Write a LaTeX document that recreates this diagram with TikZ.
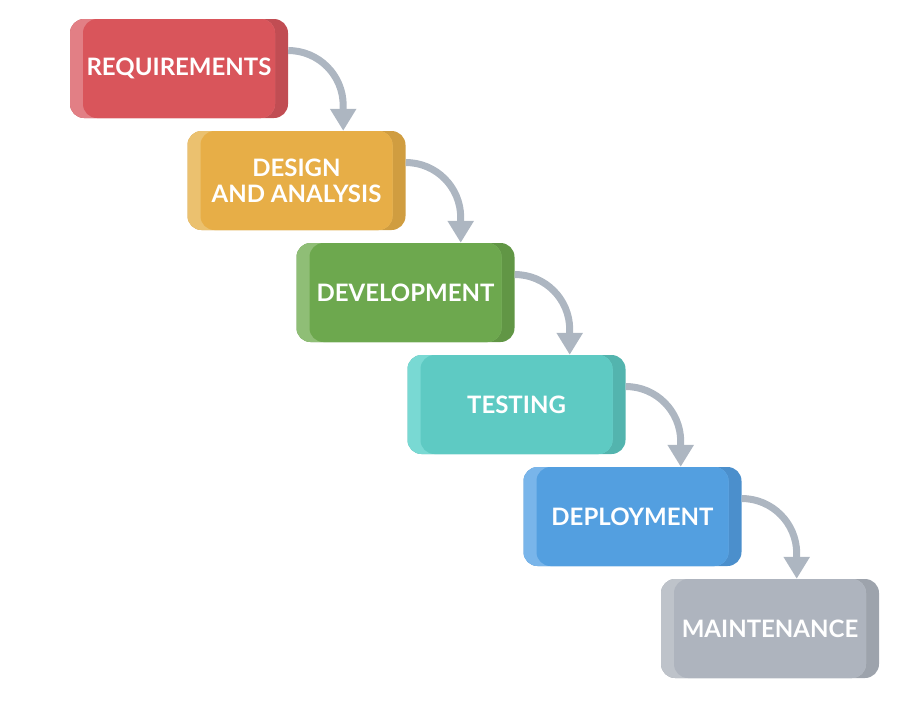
\documentclass[tikz,border=0pt]{standalone}
\usepackage{fontspec}
\setmainfont{Lato}
\usetikzlibrary{arrows.meta}

\definecolor{reqL}{HTML}{E27F85}  \definecolor{reqM}{HTML}{D9555B}  \definecolor{reqD}{HTML}{C14D53}
\definecolor{desL}{HTML}{EBC16F}  \definecolor{desM}{HTML}{E7AE47}  \definecolor{desD}{HTML}{D09D40}
\definecolor{devL}{HTML}{8FBE76}  \definecolor{devM}{HTML}{6DA84E}  \definecolor{devD}{HTML}{619645}
\definecolor{tstL}{HTML}{79D9D3}  \definecolor{tstM}{HTML}{5ECAC3}  \definecolor{tstD}{HTML}{53B4AE}
\definecolor{depL}{HTML}{79B5EA}  \definecolor{depM}{HTML}{539FE0}  \definecolor{depD}{HTML}{4B8FCC}
\definecolor{mntL}{HTML}{BEC3CA}  \definecolor{mntM}{HTML}{AEB4BE}  \definecolor{mntD}{HTML}{9DA3AC}
\definecolor{flowgray}{HTML}{ADB6C1}

\begin{document}
\begin{tikzpicture}[x=1pt, y=1pt,
  font=\fontsize{24}{26}\selectfont\bfseries,
  stage/.style={rounded corners=14pt, minimum width=218pt, minimum height=99pt,
                inner sep=0pt, align=center, text=white, fill=#1D,
                path picture={
                  \fill[#1L, rounded corners=14pt] (path picture bounding box.south west)
                    rectangle ([xshift=-13pt]path picture bounding box.north east);
                  \fill[#1M, rounded corners=14pt] ([xshift=13pt]path picture bounding box.south west)
                    rectangle ([xshift=-13pt]path picture bounding box.north east);
                }},
  flow/.style={-{Triangle[width=25pt,length=22pt]}, line width=7pt, draw=flowgray}
]
  \useasboundingbox (0,0) rectangle (904,-702);

  % --- Phases ---
  \node[stage=req] (req) at (179,-68.5)  {REQUIREMENTS};
  \node[stage=des] (des) at (296.5,-180.5) {DESIGN\\AND ANALYSIS};
  \node[stage=dev] (dev) at (405.5,-292.5) {DEVELOPMENT};
  \node[stage=tst] (tst) at (516.5,-404.5) {TESTING};
  \node[stage=dep] (dep) at (632.5,-516.5) {DEPLOYMENT};
  \node[stage=mnt] (mnt) at (770,-628.5)  {MAINTENANCE};

  % --- Passages ---
  \draw[flow] ([yshift=18pt]req.east) arc[start angle=90, end angle=0, radius=55pt]
    -- ([xshift=55pt]req.east |- des.north);
  \draw[flow] ([yshift=18pt]des.east) arc[start angle=90, end angle=0, radius=55pt]
    -- ([xshift=55pt]des.east |- dev.north);
  \draw[flow] ([yshift=18pt]dev.east) arc[start angle=90, end angle=0, radius=55pt]
    -- ([xshift=55pt]dev.east |- tst.north);
  \draw[flow] ([yshift=18pt]tst.east) arc[start angle=90, end angle=0, radius=55pt]
    -- ([xshift=55pt]tst.east |- dep.north);
  \draw[flow] ([yshift=18pt]dep.east) arc[start angle=90, end angle=0, radius=55pt]
    -- ([xshift=55pt]dep.east |- mnt.north);
\end{tikzpicture}
\end{document}
